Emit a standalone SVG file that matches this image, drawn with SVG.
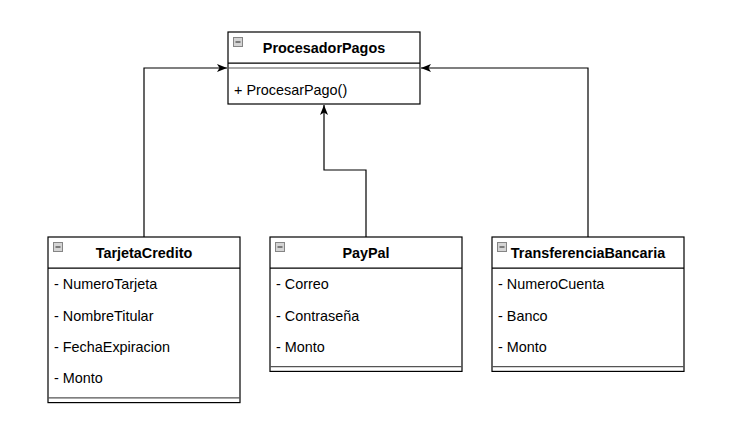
<svg xmlns="http://www.w3.org/2000/svg" width="732" height="436" viewBox="0 0 732 436">
<defs>
<style>
.box{fill:#fff;stroke:#000;stroke-width:1.2}
.ln{stroke:#000;stroke-width:1.2;fill:none}
.sep{stroke:#555;stroke-width:1.2}
.t{font-family:"Liberation Sans",Arial,Helvetica,sans-serif;font-size:14.4px;fill:#000}
.b{font-weight:bold;text-anchor:middle}
.ico{fill:#d4d4d4;stroke:#858585;stroke-width:1}
.icl{stroke:#555;stroke-width:1.4}
.edge{stroke:#000;stroke-width:1.2;fill:none}
</style>
<marker id="arr" viewBox="0 0 10 10" refX="10" refY="5" markerWidth="10" markerHeight="10" markerUnits="userSpaceOnUse" orient="auto">
<path d="M0,1 L10,5 L0,9 L2.5,5 Z" fill="#000"/>
</marker>
<symbol id="icon" viewBox="0 0 9 9">
</symbol>
</defs>
<rect width="732" height="436" fill="#fff"/>
<g id="connectors">
<path class="edge" d="M144,237 V68 H227" marker-end="url(#arr)"/>
<path class="edge" d="M366,237 V170 H324 V105" marker-end="url(#arr)"/>
<path class="edge" d="M588,237 V68 H421" marker-end="url(#arr)"/>
</g>
<g id="ProcesadorPagos">
<rect class="box" x="228" y="32" width="192" height="72"/>
<line class="ln" x1="228" y1="63.2" x2="420" y2="63.2"/>
<line class="sep" x1="228" y1="68" x2="420" y2="68"/>
<rect class="ico" x="233.5" y="37.5" width="9" height="9"/>
<line class="icl" x1="235.5" y1="42" x2="240.5" y2="42"/>
<text class="t b" x="324" y="53">ProcesadorPagos</text>
<text class="t" x="234" y="95">+ ProcesarPago()</text>
</g>
<g id="TarjetaCredito">
<rect class="box" x="48" y="237" width="192" height="165.6"/>
<line class="ln" x1="48" y1="268.2" x2="240" y2="268.2"/>
<line class="sep" x1="48" y1="397.8" x2="240" y2="397.8"/>
<rect class="ico" x="53.5" y="242.5" width="9" height="9"/>
<line class="icl" x1="55.5" y1="247" x2="60.5" y2="247"/>
<text class="t b" x="144" y="258">TarjetaCredito</text>
<text class="t" x="54" y="289">- NumeroTarjeta</text>
<text class="t" x="54" y="320.5">- NombreTitular</text>
<text class="t" x="54" y="351.5">- FechaExpiracion</text>
<text class="t" x="54" y="383">- Monto</text>
</g>
<g id="PayPal">
<rect class="box" x="270" y="237" width="192" height="134.4"/>
<line class="ln" x1="270" y1="268.2" x2="462" y2="268.2"/>
<line class="sep" x1="270" y1="366.6" x2="462" y2="366.6"/>
<rect class="ico" x="275.5" y="242.5" width="9" height="9"/>
<line class="icl" x1="277.5" y1="247" x2="282.5" y2="247"/>
<text class="t b" x="366" y="258">PayPal</text>
<text class="t" x="276" y="289">- Correo</text>
<text class="t" x="276" y="320.5">- Contraseña</text>
<text class="t" x="276" y="351.5">- Monto</text>
</g>
<g id="TransferenciaBancaria">
<rect class="box" x="492" y="237" width="192" height="134.4"/>
<line class="ln" x1="492" y1="268.2" x2="684" y2="268.2"/>
<line class="sep" x1="492" y1="366.6" x2="684" y2="366.6"/>
<rect class="ico" x="497.5" y="242.5" width="9" height="9"/>
<line class="icl" x1="499.5" y1="247" x2="504.5" y2="247"/>
<text class="t b" x="588" y="258">TransferenciaBancaria</text>
<text class="t" x="498" y="289">- NumeroCuenta</text>
<text class="t" x="498" y="320.5">- Banco</text>
<text class="t" x="498" y="351.5">- Monto</text>
</g>
</svg>
